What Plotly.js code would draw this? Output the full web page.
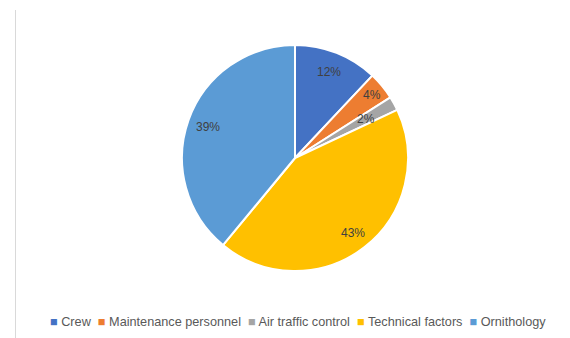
<!DOCTYPE html>
<html>
<head>
<meta charset="utf-8">
<script src="https://cdn.plot.ly/plotly-3.0.1.min.js"></script>
<style>
html,body{margin:0;padding:0;background:#fff;}
#chart{width:570px;height:338px;position:relative;}
#edge{position:absolute;left:15px;top:10px;width:1px;height:328px;background:#d9d9d9;}
</style>
</head>
<body>
<div id="chart"></div>
<div id="edge"></div>
<script>
const categories = ["Crew", "Maintenance personnel", "Air traffic control", "Technical factors", "Ornithology"];
const values = [12, 4, 2, 43, 39];
const colors = ["#4472C4", "#ED7D31", "#A5A5A5", "#FFC000", "#5B9BD5"];

// label placement (style): radial fraction of the radius for each label
const labelRadius = [0.82, 0.88, 0.72, 0.84, 0.82];

const W = 570, H = 338, CX = 295, CY = 158, R = 113;
const total = values.reduce((a, b) => a + b, 0);

const legendText = categories.map((c, i) =>
  `<span style="color:${colors[i]}">■</span> ${c}`).join("  ");

const annotations = [];
let cum = 0;
values.forEach((v, i) => {
  const mid = (cum + v / 2) / total * 2 * Math.PI;
  cum += v;
  const px = CX + labelRadius[i] * R * Math.sin(mid);
  const py = CY - labelRadius[i] * R * Math.cos(mid);
  annotations.push({
    text: Math.round(v / total * 100) + "%",
    showarrow: false, xref: "paper", yref: "paper",
    x: px / W, y: 1 - py / H, xanchor: "center", yanchor: "middle",
    font: {family: "Liberation Sans, Arial, sans-serif", size: 12, color: "#404040"}
  });
});
annotations.push({
  text: legendText,
  showarrow: false,
  xref: "paper", yref: "paper",
  x: 0.523, y: 1 - 322 / H,
  xanchor: "center", yanchor: "middle",
  font: {family: "Liberation Sans, Arial, sans-serif", size: 12.7, color: "#595959"}
});

const data = [{
  type: "pie",
  labels: categories,
  values: values,
  sort: false,
  direction: "clockwise",
  rotation: 0,
  marker: {colors: colors, line: {color: "#ffffff", width: 2}},
  textinfo: "none",
  domain: {x: [(CX - R) / W, (CX + R) / W], y: [1 - (CY + R) / H, 1 - (CY - R) / H]},
  hoverinfo: "label+percent"
}];

const layout = {
  width: W, height: H,
  margin: {l: 0, r: 0, t: 0, b: 0},
  paper_bgcolor: "#ffffff",
  showlegend: false,
  annotations: annotations
};

Plotly.newPlot("chart", data, layout, {displayModeBar: false, staticPlot: true});
</script>
</body>
</html>
